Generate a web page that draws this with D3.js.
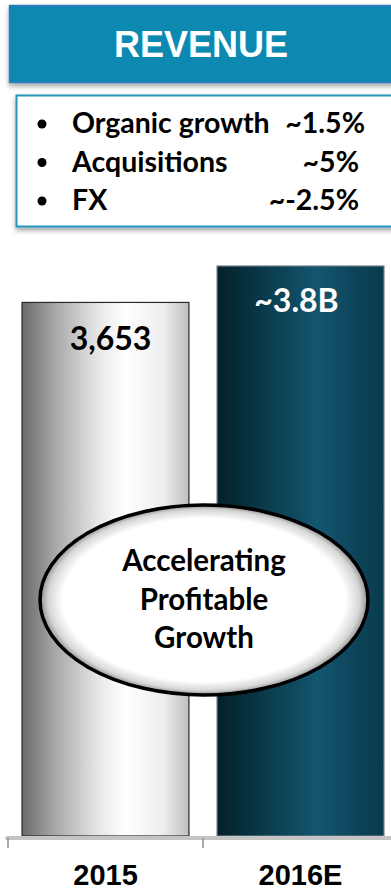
<!DOCTYPE html>
<html>
<head>
<meta charset="utf-8">
<script src="https://cdn.jsdelivr.net/npm/d3@7"></script>
<style>
  html, body { margin: 0; padding: 0; background: #fff; }
  svg { display: block; }
</style>
</head>
<body>
<svg id="chart" width="391" height="890"></svg>
<script>
// Revenue by year (millions); 2016E is the guidance figure
const categories = ["2015", "2016E"];
const revenue = [3653, 3800];
const valueLabels = ["3,653", "~3.8B"];

// Revenue growth drivers for 2016
const drivers = ["Organic growth", "Acquisitions", "FX"];
const driverValues = ["~1.5%", "~5%", "~-2.5%"];

const title = "REVENUE";
const calloutLines = ["Accelerating", "Profitable", "Growth"];

const svg = d3.select("#chart");
const defs = svg.append("defs");

// soft drop shadow used by the header and the drivers panel
const shadow = defs.append("filter").attr("id", "shadow")
  .attr("x", "-10%").attr("y", "-20%").attr("width", "130%").attr("height", "150%");
shadow.append("feDropShadow").attr("dx", 0).attr("dy", 3).attr("stdDeviation", 2.5)
  .attr("flood-color", "#000").attr("flood-opacity", 0.35);

// bar fills: cylindrical horizontal gradients
const g1 = defs.append("linearGradient").attr("id", "barGray");
[[0, "#6a6a6a"], [0.2, "#a8a8a8"], [0.45, "#e6e6e6"], [0.62, "#ffffff"], [0.85, "#ededed"], [1, "#bdbdbd"]]
  .forEach(([o, c]) => g1.append("stop").attr("offset", o).attr("stop-color", c));
const g2 = defs.append("linearGradient").attr("id", "barTeal");
[[0, "#04202a"], [0.25, "#083747"], [0.6, "#135670"], [0.85, "#0c4358"], [1, "#0a3b4e"]]
  .forEach(([o, c]) => g2.append("stop").attr("offset", o).attr("stop-color", c));

// callout oval: white centre with a thin grey rim
const rg = defs.append("radialGradient").attr("id", "oval");
[[0, "#ffffff"], [0.86, "#ffffff"], [0.95, "#d6d6d6"], [1, "#909090"]]
  .forEach(([o, c]) => rg.append("stop").attr("offset", o).attr("stop-color", c));

// ---- header ----
svg.append("rect").attr("x", 9.5).attr("y", 5.5).attr("width", 400).attr("height", 77)
  .attr("fill", "#0888b0").attr("stroke", "#3b78b8").attr("stroke-width", 1.5)
  .attr("filter", "url(#shadow)");
svg.append("text").attr("x", 201).attr("y", 57).attr("text-anchor", "middle")
  .attr("font-family", "Liberation Sans, Arial, sans-serif").attr("font-weight", "bold")
  .attr("font-size", 36).attr("fill", "#fff").text(title);

// ---- drivers panel ----
svg.append("rect").attr("x", 16.5).attr("y", 95.5).attr("width", 400).attr("height", 131)
  .attr("fill", "#fff").attr("stroke", "#2596bf").attr("stroke-width", 2)
  .attr("filter", "url(#shadow)");
const rowY = d3.scalePoint().domain(drivers).range([133, 210]);
const rows = svg.append("g").attr("font-family", "Lato, sans-serif").attr("font-weight", "bold")
  .attr("font-size", 28.5).attr("fill", "#000");
rows.selectAll("circle.bullet").data(drivers).join("circle").attr("class", "bullet")
  .attr("cx", 42).attr("cy", d => rowY(d) - 9).attr("r", 4.5).attr("fill", "#000");
rows.selectAll("text.name").data(drivers).join("text").attr("class", "name")
  .attr("x", 72).attr("y", d => rowY(d)).text(d => d);
rows.selectAll("text.val").data(driverValues).join("text").attr("class", "val")
  .attr("x", (d, i) => i === 0 ? 365 : 359).attr("y", (d, i) => rowY(drivers[i]))
  .attr("text-anchor", "end").text(d => d);

// ---- bars ----
const x = d3.scaleBand().domain(categories).range([8, 398]).paddingInner(0.144).paddingOuter(0.072);
const y = d3.scaleLinear().domain([1500, 3800]).range([836, 266]);
const fills = ["url(#barGray)", "url(#barTeal)"];
const strokes = ["#2a2a2a", "#6b7f86"];

svg.append("g").selectAll("rect").data(categories).join("rect")
  .attr("x", d => x(d)).attr("y", (d, i) => y(revenue[i]))
  .attr("width", x.bandwidth()).attr("height", (d, i) => y.range()[0] - y(revenue[i]))
  .attr("fill", (d, i) => fills[i]).attr("stroke", (d, i) => strokes[i]).attr("stroke-width", 1.2);

// value labels inside the bar tops
svg.append("g").selectAll("text").data(categories).join("text")
  .attr("x", (d, i) => x(d) + x.bandwidth() / 2 + (i === 0 ? 5 : -4))
  .attr("y", (d, i) => y(revenue[i]) + (i === 0 ? 48 : 46))
  .attr("text-anchor", "middle").attr("font-family", "Lato, sans-serif").attr("font-weight", "bold")
  .attr("font-size", 32).attr("fill", (d, i) => i === 0 ? "#000" : "#fff")
  .text((d, i) => valueLabels[i]);

// ---- axis ----
svg.append("line").attr("x1", 7).attr("x2", 391).attr("y1", 838).attr("y2", 838)
  .attr("stroke", "#c4c4c4").attr("stroke-width", 4).attr("stroke-linecap", "round");
const axis = d3.axisBottom(x).tickSize(0).tickPadding(0);
const ax = svg.append("g").attr("transform", "translate(0,838)").call(axis);
ax.select(".domain").remove();
ax.selectAll(".tick text").attr("y", 47).attr("dy", 0)
  .attr("font-family", "Liberation Sans, Arial, sans-serif").attr("font-weight", "bold")
  .attr("font-size", 29).attr("fill", "#000");
// category boundary ticks
const bounds = [x.range()[0], x.range()[0] + x.step()];
svg.append("g").selectAll("line").data(bounds).join("line")
  .attr("x1", d => d).attr("x2", d => d).attr("y1", 838).attr("y2", 848)
  .attr("stroke", "#8c8c8c").attr("stroke-width", 1.5);

// ---- callout oval ----
const oval = svg.append("g");
oval.append("ellipse").attr("cx", 204).attr("cy", 600).attr("rx", 164).attr("ry", 95)
  .attr("fill", "url(#oval)").attr("stroke", "#000").attr("stroke-width", 3.5);
oval.selectAll("text").data(calloutLines).join("text")
  .attr("x", 204).attr("y", (d, i) => 571 + i * 38.5)
  .attr("text-anchor", "middle").attr("font-family", "Lato, sans-serif").attr("font-weight", "bold")
  .attr("font-size", 29.5).attr("fill", "#000").text(d => d);
</script>
</body>
</html>
